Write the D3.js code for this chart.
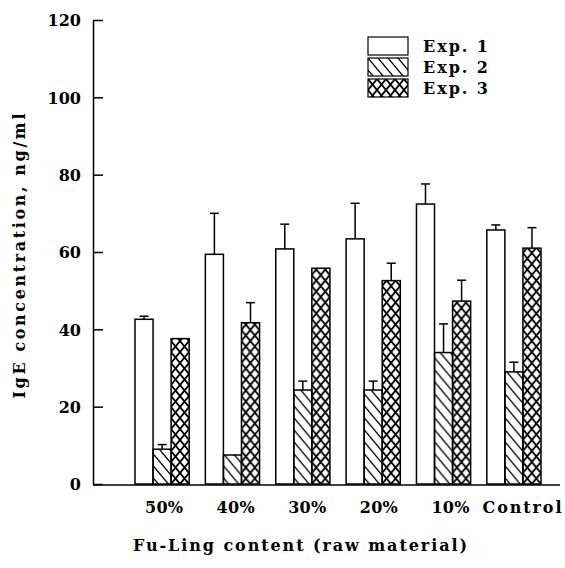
<!DOCTYPE html>
<html>
<head>
<meta charset="utf-8">
<script src="https://cdn.jsdelivr.net/npm/d3@7"></script>
<style>
  body { margin: 0; background: #fff; }
  text { font-family: "DejaVu Serif", serif; font-weight: bold; fill: #000; }
</style>
</head>
<body>
<div id="chart"></div>
<script>
// values
var categories = ["50%", "40%", "30%", "20%", "10%", "Control"];
var exp1 = [42.6, 59.4, 60.8, 63.4, 72.4, 65.7];
var exp1Err = [0.8, 10.6, 6.4, 9.2, 5.2, 1.3];
var exp2 = [9.0, 7.5, 24.3, 24.3, 34.0, 29.0];
var exp2Err = [1.2, 0, 2.3, 2.3, 7.4, 2.5];
var exp3 = [37.6, 41.7, 55.8, 52.6, 47.3, 61.0];
var exp3Err = [0, 5.2, 0, 4.5, 5.4, 5.3];
var seriesNames = ["Exp. 1", "Exp. 2", "Exp. 3"];
var yTicks = [0, 20, 40, 60, 80, 100, 120];

var width = 565, height = 568;
var svg = d3.select("#chart").append("svg")
  .attr("width", width).attr("height", height);

var defs = svg.append("defs");
// diagonal hatch for exp 2
var hatch = defs.append("pattern").attr("id", "hatch")
  .attr("patternUnits", "userSpaceOnUse").attr("width", 10).attr("height", 12);
hatch.append("path").attr("d", "M-5,-6L15,18M-5,6L5,18M5,-6L15,6")
  .attr("stroke", "#000").attr("stroke-width", 1.3);
// cross hatch for exp 3
var cross = defs.append("pattern").attr("id", "cross")
  .attr("patternUnits", "userSpaceOnUse").attr("width", 9).attr("height", 11);
cross.append("path").attr("d", "M0,0L9,11M9,0L0,11")
  .attr("stroke", "#000").attr("stroke-width", 1.8);

var fills = ["#fff", "url(#hatch)", "url(#cross)"];

var y = d3.scaleLinear().domain([0, 120]).range([484, 20]);
var x0 = d3.scaleBand().domain(categories).range([135, 541]).paddingInner(0.23).paddingOuter(0);
var x1 = d3.scaleBand().domain(d3.range(3)).range([0, x0.bandwidth()]);
// category labels sit a bit right of the groups in the original
var xLab = d3.scalePoint().domain(categories).range([164, 522]);

var rows = categories.map(function(c, i) {
  return [
    {cat: c, s: 0, v: exp1[i], e: exp1Err[i]},
    {cat: c, s: 1, v: exp2[i], e: exp2Err[i]},
    {cat: c, s: 2, v: exp3[i], e: exp3Err[i]}
  ];
});

var groups = svg.selectAll("g.grp").data(rows).enter().append("g")
  .attr("class", "grp")
  .attr("transform", function(d) { return "translate(" + x0(d[0].cat) + ",0)"; });

groups.selectAll("g.err").data(function(d) { return d.filter(function(b) { return b.e > 0; }); })
  .enter().append("g").attr("class", "err").each(function(d) {
    var g = d3.select(this);
    var cx = x1(d.s) + x1.bandwidth() / 2;
    g.append("line").attr("x1", cx).attr("x2", cx)
      .attr("y1", y(d.v)).attr("y2", y(d.v + d.e))
      .attr("stroke", "#000").attr("stroke-width", 1.5);
    g.append("line").attr("x1", cx - 4.5).attr("x2", cx + 4.5)
      .attr("y1", y(d.v + d.e)).attr("y2", y(d.v + d.e))
      .attr("stroke", "#000").attr("stroke-width", 1.5);
  });

groups.selectAll("rect").data(function(d) { return d; }).enter().append("rect")
  .attr("x", function(d) { return x1(d.s); })
  .attr("y", function(d) { return y(d.v); })
  .attr("width", x1.bandwidth())
  .attr("height", function(d) { return y(0) - y(d.v); })
  .attr("fill", function(d) { return fills[d.s]; })
  .attr("stroke", "#000").attr("stroke-width", 1.5);

// y axis, ticks pointing inward
var yAxis = svg.append("g").attr("transform", "translate(93,0)")
  .call(d3.axisRight(y).tickValues(yTicks).tickSize(10).tickSizeOuter(0).tickFormat(d3.format("d")));
yAxis.select(".domain").attr("stroke-width", 1.5);
yAxis.selectAll(".tick line").attr("stroke-width", 1.5);
yAxis.selectAll(".tick text").attr("x", -12).attr("dy", "0.36em").attr("text-anchor", "end")
  .attr("font-size", 16)
  .style("font-family", "'DejaVu Serif', serif").style("font-weight", "bold");

// x axis line
svg.append("line").attr("x1", 93).attr("x2", 560).attr("y1", 485).attr("y2", 485)
  .attr("stroke", "#000").attr("stroke-width", 1.5);

svg.selectAll("text.xlab").data(categories).enter().append("text")
  .attr("class", "xlab")
  .attr("x", function(d) { return xLab(d); })
  .attr("y", 513)
  .attr("text-anchor", "middle").attr("font-size", 16)
  .attr("textLength", function(d) { return d.length > 3 ? 79 : 38; })
  .attr("lengthAdjust", "spacing")
  .text(function(d) { return d; });

svg.append("text").attr("x", 300).attr("y", 551).attr("text-anchor", "middle")
  .attr("font-size", 16).attr("textLength", 334).attr("lengthAdjust", "spacing")
  .text("Fu-Ling content (raw material)");

svg.append("text").attr("transform", "translate(25,256) rotate(-90)")
  .attr("text-anchor", "middle").attr("font-size", 16)
  .attr("textLength", 285).attr("lengthAdjust", "spacing")
  .text("IgE concentration, ng/ml");

// legend
var legend = svg.selectAll("g.leg").data(seriesNames).enter().append("g")
  .attr("class", "leg")
  .attr("transform", function(d, i) { return "translate(368," + (37 + i * 21) + ")"; });
legend.append("rect").attr("width", 40).attr("height", 18)
  .attr("fill", function(d, i) { return fills[i]; })
  .attr("stroke", "#000").attr("stroke-width", 1.2);
legend.append("text").attr("x", 55).attr("y", 15)
  .attr("font-size", 16).attr("textLength", 65).attr("lengthAdjust", "spacing")
  .text(function(d) { return d; });
</script>
</body>
</html>
